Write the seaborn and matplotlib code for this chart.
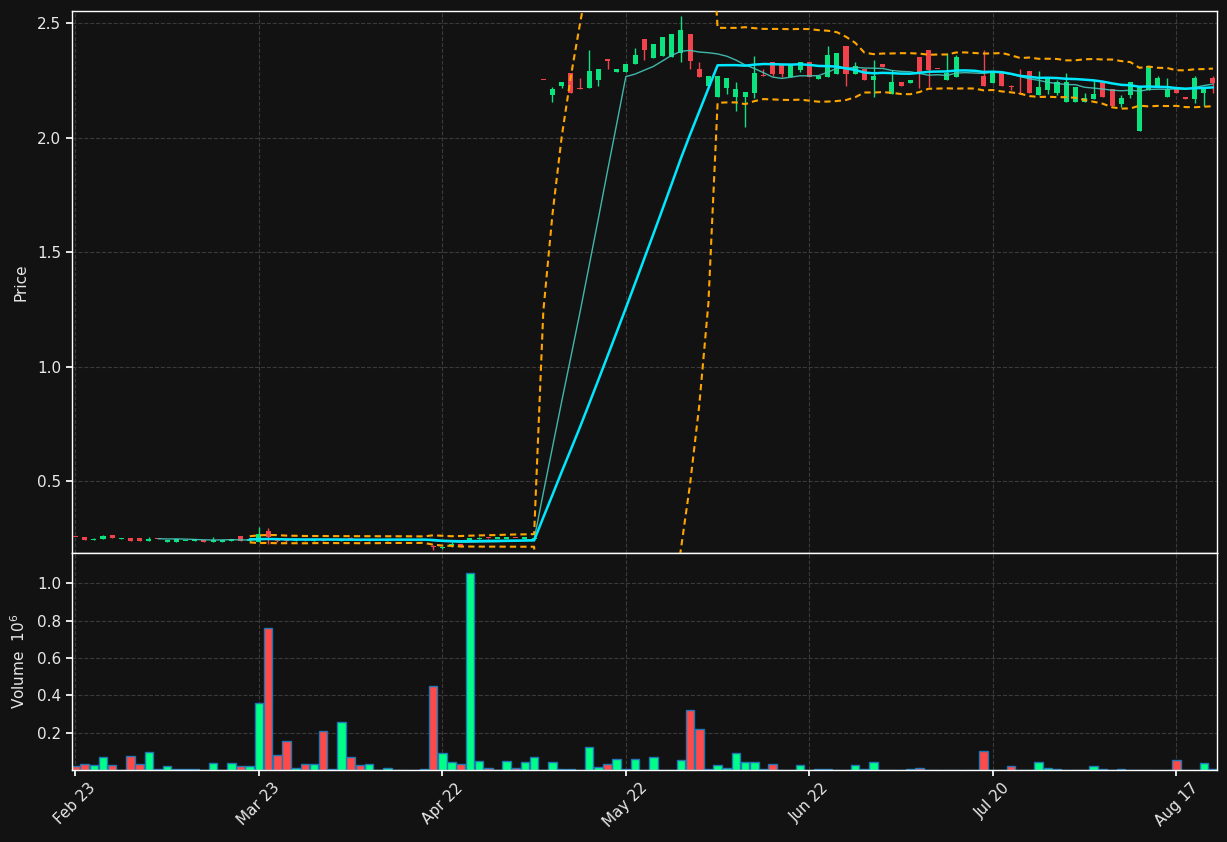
import numpy as np
import pandas as pd
import matplotlib
matplotlib.use("Agg")
import matplotlib.pyplot as plt
import seaborn as sns

# ---------------- data ----------------
opens = [0.258, 0.258, 0.244, 0.248, 0.268, 0.248, 0.255, 0.255, 0.239, 0.2495,
         0.238, 0.235, 0.240, 0.239, 0.2385, 0.235, 0.235, 0.239, 0.260, 0.240,
         0.235, 0.282, 0.248, 0.250, 0.240, 0.247, 0.241, 0.250, 0.246, 0.240,
         0.255, 0.247, 0.240, 0.245, 0.242, 0.245, 0.245, 0.245, 0.246, 0.214,
         0.208, 0.220, 0.225, 0.245, 0.248, 0.2525, 0.251, 0.248, 0.254, 0.251,
         0.250, 2.252, 2.187, 2.228, 2.283, 2.213, 2.219, 2.250, 2.339, 2.289,
         2.287, 2.320, 2.432, 2.350, 2.359, 2.352, 2.368, 2.453, 2.299, 2.228,
         2.180, 2.219, 2.180, 2.177, 2.197, 2.271, 2.331, 2.320, 2.267, 2.296,
         2.331, 2.257, 2.267, 2.280, 2.401, 2.280, 2.299, 2.250, 2.322, 2.189,
         2.244, 2.241, 2.353, 2.384, 2.301, 2.250, 2.267, 2.292, 2.290, 2.270,
         2.241, 2.282, 2.223, 2.197, 2.292, 2.187, 2.209, 2.197, 2.158, 2.158,
         2.158, 2.170, 2.244, 2.212, 2.149, 2.187, 2.031, 2.209, 2.226, 2.180,
         2.212, 2.173, 2.171, 2.197, 2.261]
highs = [0.258, 0.259, 0.253, 0.266, 0.268, 0.255, 0.255, 0.255, 0.257, 0.2495,
         0.246, 0.248, 0.242, 0.248, 0.239, 0.258, 0.244, 0.251, 0.260, 0.250,
         0.300, 0.296, 0.250, 0.252, 0.248, 0.248, 0.247, 0.251, 0.246, 0.250,
         0.256, 0.248, 0.246, 0.245, 0.246, 0.245, 0.245, 0.245, 0.247, 0.224,
         0.212, 0.235, 0.226, 0.255, 0.256, 0.253, 0.251, 0.257, 0.255, 0.254,
         0.256, 2.252, 2.222, 2.244, 2.283, 2.260, 2.382, 2.301, 2.339, 2.301,
         2.322, 2.392, 2.432, 2.410, 2.439, 2.453, 2.532, 2.453, 2.330, 2.270,
         2.270, 2.261, 2.242, 2.200, 2.359, 2.299, 2.331, 2.320, 2.321, 2.331,
         2.331, 2.271, 2.401, 2.370, 2.401, 2.330, 2.299, 2.340, 2.322, 2.296,
         2.244, 2.253, 2.353, 2.384, 2.301, 2.368, 2.360, 2.292, 2.290, 2.382,
         2.287, 2.282, 2.231, 2.299, 2.292, 2.290, 2.261, 2.251, 2.282, 2.222,
         2.197, 2.250, 2.244, 2.212, 2.188, 2.244, 2.223, 2.314, 2.270, 2.260,
         2.212, 2.173, 2.270, 2.221, 2.270]
lows = [0.258, 0.244, 0.244, 0.248, 0.252, 0.248, 0.239, 0.239, 0.239, 0.2495,
        0.235, 0.235, 0.239, 0.239, 0.236, 0.235, 0.235, 0.239, 0.239, 0.238,
        0.235, 0.228, 0.238, 0.236, 0.239, 0.240, 0.240, 0.240, 0.245, 0.239,
        0.244, 0.240, 0.239, 0.245, 0.241, 0.245, 0.245, 0.245, 0.244, 0.202,
        0.207, 0.212, 0.212, 0.244, 0.247, 0.251, 0.251, 0.247, 0.252, 0.250,
        0.249, 2.250, 2.158, 2.219, 2.197, 2.211, 2.219, 2.228, 2.299, 2.289,
        2.287, 2.320, 2.338, 2.350, 2.359, 2.352, 2.330, 2.299, 2.267, 2.228,
        2.180, 2.191, 2.119, 2.049, 2.172, 2.269, 2.269, 2.267, 2.267, 2.287,
        2.267, 2.257, 2.267, 2.280, 2.228, 2.280, 2.250, 2.180, 2.309, 2.189,
        2.228, 2.241, 2.219, 2.220, 2.299, 2.250, 2.267, 2.292, 2.290, 2.228,
        2.241, 2.228, 2.209, 2.192, 2.197, 2.187, 2.191, 2.187, 2.158, 2.158,
        2.158, 2.170, 2.180, 2.140, 2.135, 2.172, 2.031, 2.209, 2.226, 2.180,
        2.197, 2.171, 2.151, 2.140, 2.197]
closes = [0.2575, 0.244, 0.251, 0.264, 0.252, 0.255, 0.239, 0.239, 0.251, 0.249,
          0.246, 0.248, 0.241, 0.248, 0.238, 0.246, 0.244, 0.251, 0.239, 0.247,
          0.272, 0.257, 0.239, 0.240, 0.246, 0.243, 0.245, 0.242, 0.245, 0.248,
          0.245, 0.241, 0.245, 0.245, 0.245, 0.245, 0.245, 0.245, 0.245, 0.213,
          0.211, 0.227, 0.220, 0.253, 0.254, 0.252, 0.251, 0.256, 0.253, 0.253,
          0.255, 2.250, 2.213, 2.244, 2.197, 2.211, 2.292, 2.301, 2.337, 2.301,
          2.322, 2.362, 2.381, 2.410, 2.439, 2.453, 2.471, 2.337, 2.267, 2.270,
          2.270, 2.261, 2.213, 2.200, 2.283, 2.269, 2.279, 2.279, 2.321, 2.331,
          2.267, 2.271, 2.362, 2.370, 2.280, 2.314, 2.250, 2.270, 2.309, 2.244,
          2.228, 2.253, 2.289, 2.295, 2.299, 2.282, 2.353, 2.292, 2.290, 2.228,
          2.287, 2.228, 2.221, 2.192, 2.197, 2.222, 2.261, 2.244, 2.244, 2.222,
          2.174, 2.191, 2.180, 2.140, 2.174, 2.244, 2.223, 2.314, 2.260, 2.213,
          2.197, 2.171, 2.261, 2.221, 2.241]
volumes = [0.020, 0.034, 0.028, 0.071, 0.028, 0.000, 0.076, 0.034, 0.098, 0.005,
           0.023, 0.005, 0.005, 0.005, 0.000, 0.039, 0.000, 0.039, 0.023, 0.023,
           0.360, 0.760, 0.082, 0.157, 0.012, 0.034, 0.034, 0.210, 0.007, 0.258,
           0.071, 0.028, 0.034, 0.000, 0.012, 0.000, 0.000, 0.000, 0.005, 0.450,
           0.093, 0.044, 0.034, 1.053, 0.050, 0.012, 0.000, 0.050, 0.012, 0.044,
           0.071, 0.000, 0.044, 0.005, 0.005, 0.000, 0.125, 0.018, 0.034, 0.060,
           0.005, 0.060, 0.000, 0.071, 0.000, 0.000, 0.055, 0.322, 0.220, 0.005,
           0.028, 0.012, 0.093, 0.044, 0.044, 0.005, 0.034, 0.000, 0.000, 0.028,
           0.000, 0.005, 0.005, 0.000, 0.000, 0.028, 0.005, 0.044, 0.000, 0.000,
           0.000, 0.005, 0.012, 0.000, 0.000, 0.000, 0.000, 0.000, 0.000, 0.103,
           0.000, 0.000, 0.023, 0.000, 0.000, 0.044, 0.012, 0.005, 0.000, 0.000,
           0.000, 0.023, 0.005, 0.000, 0.005, 0.000, 0.000, 0.000, 0.000, 0.000,
           0.055, 0.000, 0.000, 0.039, 0.005]
tick_positions = [0, 20, 40, 60, 80, 100, 120]
tick_labels = ["Feb 23", "Mar 23", "Apr 22", "May 22", "Jun 22", "Jul 20", "Aug 17"]

# ---------------- derived ----------------
df = pd.DataFrame({"o": opens, "h": highs, "l": lows, "c": closes, "v": volumes})
df["idx"] = np.arange(len(df))
df["dir"] = np.where(df["c"] >= df["o"], "up", "down")
df["ma10"] = df["c"].rolling(10).mean()
df["ma20"] = df["c"].rolling(20).mean()
std20 = df["c"].rolling(20).std()
df["bb_up"] = df["ma20"] + 2 * std20
df["bb_lo"] = df["ma20"] - 2 * std20

BG = "#121212"
UP_C, DN_C = "#0be37f", "#f0434b"
VUP_C, VDN_C = "#00ff88", "#ff4a4a"
TXT = "#e8e8e8"

sns.set_theme(style="dark", rc={
    "axes.facecolor": BG, "figure.facecolor": BG,
    "axes.edgecolor": "white", "axes.labelcolor": TXT,
    "xtick.color": TXT, "ytick.color": TXT, "text.color": TXT,
    "grid.color": "#3a3a3a", "grid.linestyle": "--", "grid.linewidth": 0.8,
    "xtick.bottom": True, "ytick.left": True,
})
plt.rcParams["font.family"] = ["DejaVu Sans"]

fig = plt.figure(figsize=(12.27, 8.42), dpi=100)
L, W = 71.7 / 1227, 1145 / 1227
axp = fig.add_axes([L, 1 - 552.5 / 842, W, 541.2 / 842])
axv = fig.add_axes([L, 1 - 770 / 842, W, 216.7 / 842], sharex=axp)

# candles
colors = np.where(df["dir"] == "up", UP_C, DN_C)
axp.vlines(df["idx"], df["l"], df["h"], colors=colors, linewidth=1.0, zorder=2)
body_lo = np.minimum(df["o"], df["c"])
body_h = np.maximum(np.abs(df["c"] - df["o"]), 0.005)
axp.bar(df["idx"], body_h, bottom=body_lo, width=0.55, color=colors,
        linewidth=0, zorder=3)

# moving averages and bands
sns.lineplot(data=df, x="idx", y="ma10", ax=axp, color="#45c9bb", linewidth=1.0,
             alpha=0.9, zorder=4)
sns.lineplot(data=df, x="idx", y="ma20", ax=axp, color="#00e8ff", linewidth=1.8,
             zorder=5)
sns.lineplot(data=df, x="idx", y="bb_up", ax=axp, color="#ffa500", linewidth=1.5,
             linestyle=(0, (3, 2)), zorder=4)
sns.lineplot(data=df, x="idx", y="bb_lo", ax=axp, color="#ffa500", linewidth=1.5,
             linestyle=(0, (3, 2)), zorder=4)

axp.set_ylim(0.19, 2.552)
axp.set_yticks([0.5, 1.0, 1.5, 2.0, 2.5])
axp.set_ylabel("Price", fontsize=11)
axp.set_xlabel("")
axp.grid(True, axis="both")
axp.tick_params(axis="x", labelbottom=False, length=0)
axp.tick_params(axis="y", labelsize=11, length=4, color="white")

# volume
sns.barplot(data=df, x="idx", y="v", hue="dir", palette={"up": VUP_C, "down": VDN_C},
            native_scale=True, dodge=False, width=0.93, errorbar=None,
            saturation=1, edgecolor="#1f77b4", linewidth=1.0, legend=False, ax=axv)
axv.set_ylim(0, 1.16)
axv.set_yticks([0.2, 0.4, 0.6, 0.8, 1.0])
axv.set_ylabel("Volume  $10^{6}$", fontsize=11)
axv.set_xlabel("")
axv.grid(True, axis="both")
axv.set_xticks(tick_positions)
axv.set_xticklabels(tick_labels, rotation=45, fontsize=11)
axv.tick_params(axis="both", labelsize=11, length=4, color="white")
axv.set_xlim(-0.41, 124.41)

for ax in (axp, axv):
    for s in ax.spines.values():
        s.set_color("white")
        s.set_linewidth(1.0)
    ax.yaxis.set_label_coords(-0.038, 0.5)

fig.savefig("out.png", dpi=100, facecolor=BG)
